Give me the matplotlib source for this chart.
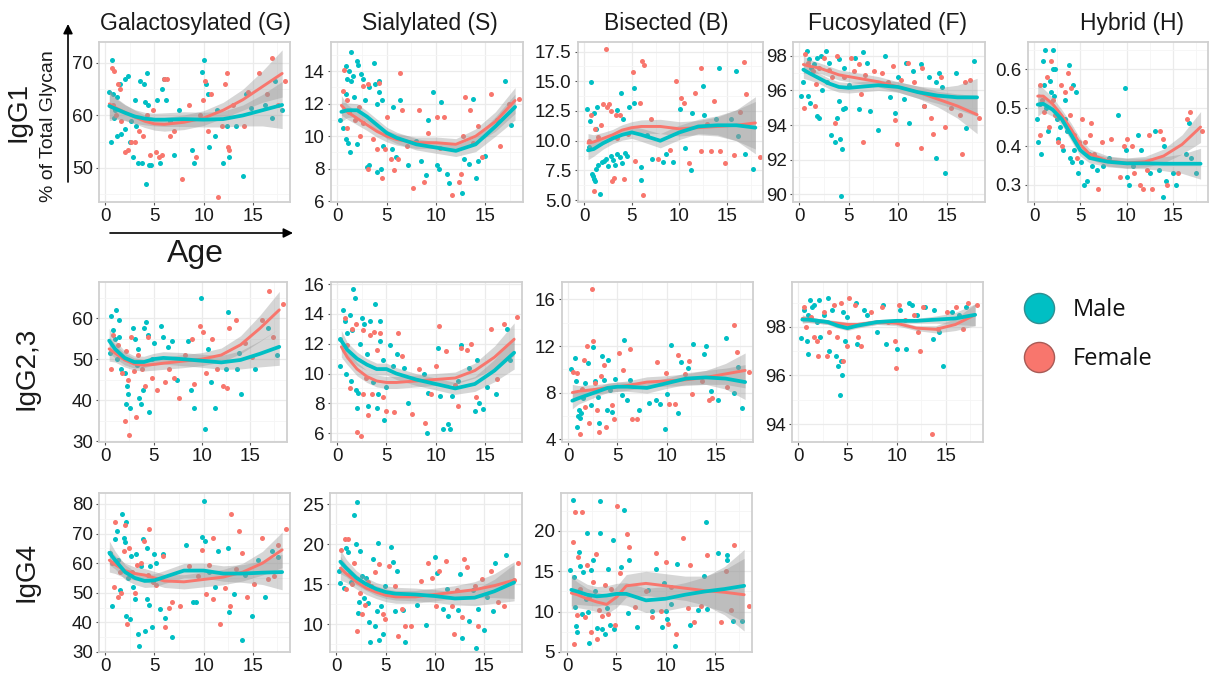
import matplotlib
matplotlib.use("Agg")
import numpy as np
import matplotlib.pyplot as plt

plt.rcParams['font.family'] = ['Liberation Sans', 'DejaVu Sans']

W, H = 1215, 681
TEAL = '#00BFC4'
SALMON = '#F8766D'

age_knots = [0.4, 1, 2, 3, 4, 5, 6, 8, 10, 12, 14, 16, 18]

# ---------------- IgG1 ----------------
g1_gal_male = [(0.7,70.5),(1.5,66),(2.0,67),(2.3,67.5),(0.4,64.5),(0.8,64),(1.2,63.5),(1.0,61),(0.9,59.5),(0.6,55),
               (1.2,56),(1.6,56.5),(2.0,57.5),(2.5,55),(2.8,52),(3.3,51),(3.7,51),(4.1,47),(4.4,50.5),(4.6,50.5),
               (3.0,63),(3.5,66.5),(3.9,66),(4.2,68),(4.3,62),(4.0,62.5),(2.6,59),(3.1,58),(5.3,63),(5.6,51),
               (5.8,65),(6.0,67),(6.2,63),(6.6,59),(7.0,52.5),(7.5,61),(8.8,53.5),(9.0,51),(10.0,70.5),(9.8,68.3),
               (10.2,66),(10.4,64),(10.6,54),(11.2,56),(11.4,61),(12.0,51),(12.4,58),(12.6,52),(13.3,58),(14.0,48.5),
               (14.3,64),(14.8,61.5),(16.3,62),(17.0,59.5),(17.3,66.5),(18.0,61)]
g1_gal_female = [(0.7,69),(0.9,68.5),(1.3,66),(1.5,65),(0.8,62),(1.1,60),(1.6,59),(2.0,53),(2.3,53.5),(2.6,55),
                 (3.0,55),(3.4,57),(3.8,56),(4.2,60),(4.5,52.5),(4.8,61),(5.2,53),(5.5,52),(5.8,52.5),(6.0,67),
                 (6.3,67),(6.6,56),(7.0,57),(7.8,47.8),(8.5,62),(9.2,52),(9.6,60),(9.9,63),(10.1,66.5),(10.4,57),
                 (10.8,64),(11.5,44.5),(11.9,58),(12.2,66),(12.4,68),(12.5,54),(12.6,53.5),(13.0,62),(14.1,58),
                 (14.5,64.5),(15.6,68),(16.5,64),(17.0,71),(17.6,62),(18.3,66.5)]
g1_gal_fit_m = [61.8,61.3,60.5,59.8,59.4,59.2,59.2,59.3,59.2,59.3,60,61,62]
g1_gal_fit_f = [62.2,61.5,60.6,59.7,58.9,58.4,58.3,58.7,59.5,61,63,65.5,68]
g1_gal_se = [2.8,2.0,1.5,1.3,1.2,1.2,1.3,1.4,1.4,1.5,2,3,4.5]

g1_sia_male = [(1.4,15.2),(0.9,14.3),(1.2,14.0),(2.0,14.6),(2.1,14.4),(3.7,14.5),(1.0,13.5),(1.4,13.4),(1.6,13.7),
               (2.4,13.8),(2.6,13.5),(3.2,13.0),(3.8,13.2),(4.2,13.4),(4.2,12.7),(0.9,12.6),(1.7,12.4),(2.8,12.2),
               (4.0,12.0),(4.5,12.2),(5.6,11.8),(0.3,11.0),(0.6,10.5),(0.9,9.8),(1.1,9.6),(1.3,9.0),(2.0,9.5),
               (3.2,8.2),(3.0,8.1),(4.0,7.8),(4.4,8.0),(4.6,9.4),(5.5,9.2),(5.9,8.7),(6.3,12.2),(7.1,8.2),(8.0,9.7),
               (8.5,8.5),(9.0,7.6),(9.2,11.0),(9.7,12.7),(10.1,8.2),(10.3,8.0),(10.5,12.1),(11.1,7.7),(11.3,7.1),
               (12.6,6.5),(12.8,8.6),(13.3,8.3),(13.7,12.3),(14.0,7.4),(14.2,8.5),(14.9,8.8),(16.2,11.0),(17.0,13.4),
               (17.6,10.7)]
g1_sia_female = [(0.7,14.1),(0.6,12.8),(1.0,12.2),(1.2,11.5),(1.0,10.5),(1.8,11.0),(2.2,11.8),(2.3,10.0),(2.6,10.8),
                 (2.6,13.1),(3.1,13.2),(3.1,8.0),(3.6,9.8),(4.0,9.2),(4.2,13.3),(4.5,7.4),(4.8,9.2),(5.0,11.2),
                 (5.4,8.6),(5.7,7.9),(6.1,8.6),(6.3,13.9),(6.5,11.6),(7.0,9.4),(7.7,6.8),(8.3,11.6),(8.8,7.2),
                 (9.2,10.2),(10.1,11.2),(10.8,11.2),(10.4,9.3),(11.6,6.4),(12.3,7.2),(12.5,7.7),(12.7,10.0),
                 (12.9,12.4),(13.4,11.6),(13.7,9.6),(14.2,10.6),(14.6,8.7),(15.6,12.6),(16.5,9.4),(17.4,12.0),
                 (18.4,12.3)]
g1_sia_fit_m = [11.5,11.6,11.6,11.2,10.7,10.2,9.9,9.5,9.3,9.1,9.5,10.6,11.8]
g1_sia_fit_f = [11.9,11.5,11.1,10.7,10.3,10.0,9.8,9.6,9.6,9.5,10.0,10.9,12.2]
g1_sia_se = [0.6,0.45,0.4,0.35,0.35,0.35,0.35,0.35,0.35,0.35,0.45,0.6,0.8]

g1_bis_male = [(0.3,12.7),(0.7,14.9),(0.6,11.7),(1.0,12.3),(1.2,11.0),(1.3,12.8),(0.5,9.5),(0.8,7.2),(0.9,7.0),
               (1.0,6.8),(1.1,6.6),(1.2,7.6),(1.5,8.0),(1.7,5.5),(1.9,8.2),(2.1,8.3),(2.3,8.5),(2.5,7.9),(2.8,8.7),
               (3.0,8.4),(3.2,8.0),(3.5,8.9),(3.8,8.6),(4.0,8.1),(4.3,9.0),(4.5,8.7),(3.4,12.6),(3.9,14.0),(4.1,11.8),
               (4.7,12.8),(5.2,13.2),(5.2,14.4),(6.0,7.8),(6.0,6.7),(6.6,10.5),(7.1,8.5),(8.3,8.2),(8.6,8.9),(9.3,8.2),
               (10.1,12.7),(10.6,9.4),(11.2,7.5),(11.3,12.3),(12.5,14.6),(12.6,12.2),(13.9,11.8),(14.2,16.1),
               (15.4,11.8),(16.0,15.9),(16.2,10.4),(16.9,8.9),(17.7,7.6)]
g1_bis_female = [(0.5,10.0),(0.7,12.2),(1.0,5.8),(1.1,11.0),(1.5,10.3),(1.8,11.3),(2.0,13.1),(2.3,17.7),(2.4,12.8),
                 (2.6,13.1),(2.8,12.5),(2.9,6.6),(3.1,6.9),(3.3,12.2),(3.5,10.2),(3.8,12.2),(4.2,6.8),(4.6,10.6),
                 (5.1,15.8),(5.3,8.3),(5.9,13.2),(6.1,16.7),(6.3,16.4),(6.2,5.4),(7.0,11.8),(7.8,8.5),(9.0,9.2),
                 (9.7,15.0),(10.2,13.6),(10.5,13.2),(11.0,8.1),(11.6,14.0),(12.3,16.1),(12.3,9.1),(12.9,11.4),
                 (13.3,9.1),(13.7,13.3),(14.3,9.1),(14.8,8.1),(15.8,8.8),(16.4,12.4),(16.8,16.6),(17.0,13.9),(18.5,8.6)]
g1_bis_fit_m = [9.2,9.3,9.8,10.2,10.5,10.7,10.5,10.0,10.7,11.2,11.3,11.3,11.1]
g1_bis_fit_f = [9.8,9.9,10.2,10.5,10.9,11.1,11.2,11.2,11.0,11.1,11.2,11.3,11.5]
g1_bis_se = [0.8,0.6,0.5,0.45,0.45,0.5,0.55,0.6,0.6,0.6,0.8,1.3,2.2]

g1_fuc_male = [(0.2,95.7),(0.4,96.5),(0.8,98.3),(1.0,97.8),(1.2,97.3),(1.5,97.5),(1.8,97.9),(2.2,98.0),(2.7,98.3),
               (3.0,97.6),(0.9,95.7),(1.1,95.3),(1.8,94.5),(2.0,94.4),(2.3,96.0),(2.8,96.5),(3.2,93.4),(3.6,93.0),
               (3.8,94.4),(4.0,95.4),(4.1,93.2),(4.2,89.9),(4.4,94.9),(4.6,95.0),(4.3,92.6),(4.0,97.8),(4.5,97.3),
               (5.0,96.3),(5.6,97.9),(6.0,94.9),(6.4,98.2),(6.8,97.6),(7.2,94.8),(8.0,93.7),(8.7,98.0),(9.2,95.6),
               (9.7,94.7),(10.0,96.8),(10.6,95.5),(10.8,97.6),(11.1,94.1),(11.5,97.1),(12.3,97.5),(12.6,95.1),
               (13.1,96.8),(13.8,92.1),(13.8,96.5),(14.1,97.0),(14.4,96.2),(14.7,91.2),(15.9,97.0),(16.9,93.8),
               (17.7,97.7)]
g1_fuc_female = [(0.5,95.0),(0.6,98.1),(0.9,97.6),(1.4,97.1),(1.7,96.4),(1.6,95.1),(2.0,97.3),(2.5,97.9),(3.0,97.2),
                 (3.3,96.8),(3.8,98.0),(3.6,94.1),(4.5,96.8),(5.2,97.9),(5.5,97.1),(6.0,97.5),(6.2,95.8),(6.4,93.0),
                 (6.6,96.9),(7.6,97.1),(8.4,97.0),(9.0,96.5),(9.5,97.4),(9.7,94.3),(9.9,92.9),(10.3,96.6),(11.0,97.6),
                 (11.6,96.5),(12.3,92.7),(12.4,97.3),(12.6,95.1),(13.3,94.4),(13.5,93.5),(14.3,96.8),(14.7,93.9),
                 (15.4,95.0),(16.3,94.6),(16.5,92.3),(16.8,96.5),(17.3,96.6),(18.2,94.4)]
g1_fuc_fit_m = [97.2,97.0,96.7,96.4,96.2,96.15,96.2,96.3,96.2,95.9,95.7,95.6,95.6]
g1_fuc_fit_f = [97.5,97.4,97.3,97.1,96.9,96.8,96.7,96.5,96.2,95.9,95.5,95.1,94.6]
g1_fuc_se = [0.5,0.4,0.3,0.3,0.3,0.3,0.3,0.3,0.3,0.35,0.45,0.7,1.1]

g1_hyb_male = [(0.3,0.47),(0.4,0.41),(0.7,0.51),(0.8,0.38),(1.0,0.62),(1.1,0.56),(1.2,0.65),(1.3,0.50),(1.5,0.44),
               (1.7,0.57),(1.8,0.54),(2.0,0.65),(2.1,0.60),(2.2,0.53),(2.3,0.60),(2.5,0.47),(2.6,0.42),(2.8,0.45),
               (3.1,0.39),(3.3,0.52),(3.4,0.47),(3.6,0.44),(3.8,0.61),(3.9,0.37),(4.1,0.36),(4.2,0.56),(4.3,0.39),
               (4.5,0.54),(4.6,0.41),(4.8,0.33),(5.1,0.36),(5.4,0.30),(5.7,0.31),(5.9,0.38),(6.3,0.35),(6.8,0.34),
               (7.5,0.35),(8.1,0.37),(9.1,0.48),(9.8,0.55),(9.9,0.39),(10.0,0.32),(10.3,0.30),(10.7,0.35),(11.2,0.43),
               (11.6,0.39),(12.5,0.33),(13.1,0.44),(13.5,0.34),(13.9,0.27),(14.0,0.40),(14.3,0.31),(15.0,0.33),
               (15.3,0.30),(16.4,0.38),(16.8,0.46),(17.0,0.37),(17.5,0.33)]
g1_hyb_female = [(0.6,0.43),(0.7,0.56),(0.9,0.52),(1.1,0.49),(1.4,0.58),(1.6,0.45),(1.8,0.62),(2.1,0.52),(2.3,0.48),
                 (2.6,0.41),(2.9,0.56),(3.0,0.40),(3.3,0.54),(3.7,0.59),(3.9,0.48),(4.0,0.55),(4.3,0.43),(4.6,0.37),
                 (4.9,0.41),(5.2,0.47),(5.5,0.41),(6.0,0.43),(6.2,0.46),(6.5,0.38),(6.9,0.29),(7.3,0.41),(8.3,0.42),
                 (9.3,0.32),(9.7,0.40),(10.1,0.42),(10.6,0.40),(10.8,0.33),(11.4,0.30),(11.8,0.29),(12.2,0.34),
                 (12.4,0.43),(12.8,0.29),(13.6,0.44),(13.9,0.42),(14.4,0.30),(15.6,0.33),(16.5,0.47),(16.9,0.49),
                 (18.2,0.44)]
g1_hyb_fit_m = [0.508,0.51,0.495,0.47,0.43,0.39,0.37,0.36,0.356,0.356,0.355,0.355,0.355]
g1_hyb_fit_f = [0.53,0.53,0.51,0.48,0.445,0.405,0.38,0.362,0.357,0.36,0.375,0.405,0.45]
g1_hyb_se = [0.03,0.02,0.017,0.015,0.015,0.015,0.013,0.013,0.013,0.014,0.018,0.025,0.04]

# ---------------- IgG2,3 ----------------
g23_gal_male = [(0.6,60.5),(1.1,62),(1.4,59.5),(0.8,57),(1.0,55),(1.4,55.5),(0.5,51.5),(1.2,50.0),(1.6,47.5),
                (2.0,46.5),(2.2,43.5),(2.3,41.5),(2.1,39),(2.6,38),(2.9,57.5),(3.1,55),(3.4,52.5),(3.3,48.5),
                (3.5,40.5),(3.7,39),(3.9,42.5),(4.0,57.5),(4.2,59),(4.4,56),(4.5,37),(4.8,50),(5.0,54),(5.8,58),
                (6.0,55.5),(6.5,53),(6.9,54.5),(7.4,45),(8.6,54.5),(8.9,42.5),(9.2,38),(9.9,65),(10.3,33),(10.6,52.5),
                (10.9,44.5),(11.3,38),(12.5,47.5),(12.7,61.5),(13.6,47.5),(13.8,51.5),(14.0,41.5),(15.5,47.5),
                (16.8,57.5),(17.8,51)]
g23_gal_female = [(0.6,47.5),(0.8,56),(1.3,53.5),(1.7,46.5),(2.0,35),(2.1,52),(2.3,45),(2.5,31.5),(2.7,55.5),
                  (3.0,47),(3.2,36),(3.4,51),(3.8,47.5),(4.1,43.5),(4.4,55.5),(4.8,45.5),(5.3,42.5),(6.2,44.5),
                  (6.6,47.5),(7.1,45.5),(7.6,40.5),(8.2,51),(9.0,55),(9.2,44),(9.8,58),(10.1,56.5),(10.4,46.5),
                  (11.0,55),(11.6,47.5),(12.2,43.5),(12.6,43),(12.8,57.5),(13.5,59.5),(14.5,54),(15.2,50.5),
                  (16.2,59.5),(16.9,66.5),(17.3,55.5),(18.4,63.5)]
g23_gal_fit_m = [54.5,52.5,50.3,49.3,49.3,50.0,50.3,50.0,49.6,49.2,49.8,51.3,53]
g23_gal_fit_f = [52.5,51.5,49.8,48.8,48.5,48.7,49.0,49.5,50.0,51.0,53.5,57.5,62]
g23_gal_se = [3,2.2,1.7,1.5,1.4,1.4,1.5,1.6,1.6,1.7,2.2,3.2,4.5]

g23_sia_male = [(0.3,12.3),(0.3,10.5),(0.6,14.3),(0.8,13.5),(0.9,10.0),(1.0,12.7),(1.3,13.9),(1.6,15.7),(1.8,15.1),
                (1.5,12.9),(1.4,9.5),(1.9,8.9),(2.0,7.7),(2.1,8.7),(2.3,12.0),(2.5,13.7),(2.7,13.3),(3.0,11.3),
                (3.1,7.8),(3.3,13.5),(3.6,9.4),(3.8,14.7),(4.0,7.7),(4.1,8.6),(4.3,13.5),(4.3,12.2),(4.6,10.9),
                (4.7,6.9),(4.9,9.1),(5.4,11.9),(5.7,10.5),(6.1,11.3),(6.8,10.4),(7.2,8.0),(8.8,10.0),(9.1,6.0),
                (9.2,8.7),(10.2,11.7),(10.5,8.5),(10.8,6.3),(11.3,6.6),(11.5,6.3),(11.7,8.5),(12.3,9.5),(12.6,11.9),
                (13.4,10.4),(14.0,7.5),(14.2,10.9),(14.4,8.0),(14.8,7.6),(15.2,9.1),(16.2,8.6),(17.3,13.0),(17.6,10.9)]
g23_sia_female = [(0.8,13.7),(1.0,11.9),(1.3,9.0),(1.5,13.0),(1.9,13.3),(2.0,6.1),(2.4,5.8),(2.6,8.6),(2.6,12.9),
                  (2.9,9.7),(3.1,7.2),(3.3,12.6),(3.5,8.6),(3.7,12.8),(4.0,11.6),(4.3,12.7),(4.6,8.4),(4.9,7.5),
                  (5.8,7.4),(6.2,12.7),(6.6,11.2),(7.6,7.3),(8.3,10.3),(8.9,6.7),(9.5,8.6),(10.0,10.5),(10.3,13.2),
                  (11.1,11.5),(12.0,9.2),(12.3,7.8),(12.6,11.7),(13.2,11.6),(13.6,12.0),(14.1,8.4),(15.6,13.0),
                  (16.3,9.6),(17.0,13.3),(18.3,13.8)]
g23_sia_fit_m = [12.2,11.6,11.0,10.6,10.3,10.3,10.0,9.6,9.3,9.0,9.3,10.2,11.4]
g23_sia_fit_f = [11.8,11.1,10.3,9.8,9.5,9.4,9.4,9.5,9.6,9.7,10.2,11.1,12.3]
g23_sia_se = [0.7,0.5,0.45,0.4,0.4,0.4,0.4,0.4,0.4,0.4,0.5,0.75,1.1]

g23_bis_male = [(0.3,10.0),(0.7,11.0),(0.8,9.0),(0.9,5.0),(1.0,6.0),(1.1,6.5),(1.2,5.8),(1.3,6.2),(1.5,7.5),
                (1.7,8.8),(2.0,10.5),(2.3,6.9),(2.5,11.9),(2.7,9.0),(3.0,7.6),(3.1,5.4),(3.4,11.1),(3.6,9.1),
                (3.9,6.5),(4.0,10.8),(4.2,8.2),(4.4,6.3),(4.7,9.2),(5.5,7.8),(5.7,12.5),(6.0,7.4),(6.3,9.1),
                (7.2,6.5),(8.2,7.1),(8.9,7.4),(9.3,7.0),(9.8,4.9),(10.0,7.9),(10.5,12.1),(11.2,6.2),(11.5,10.6),
                (12.2,10.1),(12.7,12.2),(13.8,11.3),(14.0,12.0),(14.5,8.1),(15.2,7.4),(16.0,12.7),(16.9,8.0),
                (17.3,10.2),(17.7,6.7)]
g23_bis_female = [(0.5,9.8),(0.9,9.7),(1.2,4.4),(1.4,8.3),(1.6,10.8),(1.7,6.8),(1.9,12.0),(2.1,5.4),(2.4,16.9),
                  (2.5,12.4),(2.7,8.8),(2.9,6.5),(3.1,4.6),(3.3,9.4),(3.6,10.4),(3.8,5.0),(4.4,6.9),(4.6,5.7),
                  (5.2,11.4),(5.6,9.9),(6.3,11.7),(6.5,5.7),(7.0,5.7),(9.0,10.6),(9.9,9.7),(10.2,7.0),(10.9,7.0),
                  (11.2,11.2),(11.9,9.6),(12.3,10.7),(12.6,7.9),(13.6,9.0),(14.3,7.4),(14.6,7.5),(16.2,8.5),
                  (16.9,13.8),(17.2,11.5),(18.4,9.8)]
g23_bis_fit_m = [7.3,7.5,7.8,8.1,8.4,8.5,8.5,8.4,8.8,9.2,9.3,9.2,8.9]
g23_bis_fit_f = [8.0,8.1,8.2,8.3,8.4,8.5,8.6,8.9,9.0,9.1,9.3,9.6,9.9]
g23_bis_se = [0.7,0.5,0.45,0.4,0.4,0.4,0.4,0.45,0.45,0.5,0.6,0.9,1.5]

g23_fuc_male = [(0.3,97.55),(0.6,98.7),(0.9,97.4),(1.0,98.5),(1.0,96.9),(1.2,99.1),(1.4,98.8),(1.6,98.9),(1.9,98.2),
                (2.1,99.1),(2.2,97.6),(2.6,98.5),(3.0,99.2),(3.1,97.0),(3.4,98.7),(3.8,96.8),(4.0,96.4),(4.2,95.2),
                (4.3,96.6),(4.4,96.0),(4.5,98.6),(4.7,97.4),(5.0,98.4),(5.9,99.0),(6.0,97.3),(6.7,98.7),(7.0,98.5),
                (8.0,97.8),(8.6,98.9),(8.9,97.3),(10.0,97.1),(10.3,98.7),(11.0,97.1),(11.3,99.0),(11.6,98.9),
                (12.1,98.5),(12.9,98.8),(13.7,97.5),(13.8,98.7),(14.3,97.8),(14.7,96.4),(15.6,98.6),(16.4,98.5),
                (17.1,98.8)]
g23_fuc_female = [(0.6,98.8),(0.8,98.0),(1.3,98.4),(1.6,97.6),(1.9,97.4),(2.0,96.8),(2.6,98.6),(2.9,96.8),(3.1,97.8),
                  (3.6,98.9),(3.9,97.6),(4.3,99.0),(4.5,96.6),(4.9,97.2),(5.2,99.2),(5.8,98.9),(6.1,97.6),(6.4,97.2),
                  (7.4,98.6),(8.5,98.8),(9.1,98.2),(9.8,97.4),(9.9,96.3),(10.2,98.9),(10.9,98.3),(11.8,98.5),
                  (12.2,97.8),(12.4,97.0),(12.7,98.8),(13.6,93.6),(14.2,97.9),(15.1,98.6),(16.1,98.8),(16.8,97.9),
                  (17.3,99.0),(18.2,98.9)]
g23_fuc_fit_m = [98.3,98.3,98.25,98.2,98.05,97.95,98.05,98.2,98.25,98.25,98.3,98.35,98.5]
g23_fuc_fit_f = [98.35,98.3,98.25,98.2,98.15,98.1,98.1,98.2,98.15,97.95,97.9,98.1,98.5]
g23_fuc_se = [0.15,0.12,0.1,0.1,0.1,0.1,0.1,0.1,0.1,0.1,0.15,0.25,0.45]

# ---------------- IgG4 ----------------
g4_gal_male = [(0.5,63.5),(0.7,45.5),(1.0,68),(1.2,71),(1.3,61),(1.5,51),(1.7,76.5),(1.9,68.5),(2.0,67),(2.1,74),
               (2.1,42),(2.3,55),(2.5,41),(2.6,62.5),(2.8,52),(3.0,48),(3.1,63),(3.3,36),(3.4,32),(3.6,59),(3.8,68),
               (4.0,37),(4.2,48),(4.2,65),(4.4,46),(4.5,59),(4.7,38.5),(4.9,63),(5.2,60),(5.6,44.5),(5.9,63),
               (6.1,41.5),(6.8,35),(8.2,66),(8.9,47),(9.2,47),(9.8,69),(10.0,81),(10.1,67.5),(10.6,57),(11.2,52),
               (11.5,64),(12.5,65),(12.6,43.5),(13.1,49.5),(13.9,34),(14.2,56),(14.9,42),(15.5,61),(16.3,48.5),
               (17.0,64),(17.6,62)]
g4_gal_female = [(0.7,60),(0.9,52),(1.0,74),(1.3,48.5),(1.5,57),(1.6,50),(1.9,64),(2.0,73),(2.2,39.5),(2.4,65),
                 (2.7,57),(3.0,50),(3.2,59.5),(3.6,60),(3.9,67.5),(4.3,56),(4.4,71.5),(4.8,53.5),(5.2,52.5),(5.9,62.5),
                 (6.1,38.5),(6.5,45),(6.8,47),(7.6,45.5),(8.5,59),(9.4,55.5),(9.8,64.5),(10.2,49.5),(10.6,59.5),
                 (11.0,48),(11.0,68.5),(11.7,39.5),(12.2,51.5),(12.7,45.5),(12.8,76.5),(13.3,58),(13.6,71),
                 (13.9,63.5),(14.4,48.5),(15.1,53),(15.9,68.5),(16.6,54.5),(17.2,55.5),(17.6,66),(18.4,71.5)]
g4_gal_fit_m = [63.5,61,57,55,54,54.2,55.3,57.5,57.5,56.5,56.5,56.8,57]
g4_gal_fit_f = [61,59.5,57.5,56.5,56,55,54,53.7,54.5,55.3,57,60,64.5]
g4_gal_se = [4,3,2.5,2.2,2.2,2.2,2.2,2.4,2.5,2.6,3,4,6]

g4_sia_male = [(0.3,16.6),(0.4,15.1),(0.8,14.5),(1.0,19.5),(1.2,19.0),(1.5,15.3),(1.8,23.7),(2.0,20.0),(2.1,25.3),
               (2.2,11.4),(2.3,12.8),(2.4,19.2),(2.6,16.0),(2.8,13.3),(3.0,15.7),(3.2,12.6),(3.3,10.2),(3.4,7.8),
               (3.7,18.2),(3.9,9.8),(4.1,11.6),(4.2,20.2),(4.3,8.0),(4.5,12.3),(4.7,8.8),(4.9,14.8),(5.5,19.7),
               (5.7,17.8),(5.9,11.6),(6.1,16.6),(6.7,11.8),(6.9,7.7),(8.2,12.4),(9.1,9.9),(10.0,18.4),(10.2,16.4),
               (10.8,11.9),(11.2,14.4),(11.3,11.0),(12.3,11.7),(12.5,16.3),(12.7,8.3),(13.4,10.4),(13.8,14.3),
               (14.1,7.0),(14.3,11.9),(14.9,9.3),(15.3,13.4),(15.9,11.6),(16.1,17.7),(17.2,18.6)]
g4_sia_female = [(0.5,19.3),(0.9,20.6),(1.2,20.6),(1.0,14.4),(1.4,16.2),(1.6,15.0),(1.8,17.7),(2.1,9.1),(2.4,13.9),
                 (2.6,11.2),(2.9,12.4),(3.2,15.2),(3.5,14.7),(3.9,16.5),(4.3,17.5),(4.7,11.3),(4.9,10.6),(5.3,17.3),
                 (5.9,14.8),(6.2,8.5),(6.6,11.9),(6.9,9.8),(7.6,9.7),(8.6,15.4),(9.3,17.7),(9.7,15.8),(10.1,12.3),
                 (10.4,16.6),(11.1,17.9),(11.7,12.2),(11.9,8.8),(12.2,14.2),(12.7,10.9),(12.9,18.1),(13.2,17.1),
                 (14.0,14.7),(14.3,9.8),(14.7,15.6),(15.7,16.6),(16.4,12.7),(17.0,12.3),(18.0,15.5),(18.4,17.7)]
g4_sia_fit_m = [17.8,17.0,15.8,15.0,14.4,14.0,13.8,13.7,13.5,13.2,13.3,14.1,15.2]
g4_sia_fit_f = [17.0,16.3,15.3,14.5,14.0,13.6,13.4,13.4,13.7,14.0,14.3,14.8,15.5]
g4_sia_se = [1.5,1.1,0.9,0.8,0.8,0.8,0.8,0.8,0.8,0.8,1.0,1.5,2.3]

g4_bis_male = [(0.3,15.1),(0.6,23.8),(0.7,14.3),(0.8,10.6),(0.9,8.2),(1.0,7.5),(1.2,17.4),(1.3,15.7),(1.5,9.7),
               (1.6,14.9),(1.9,11.6),(2.0,19.7),(2.1,9.9),(2.2,6.1),(2.4,15.2),(2.6,16.4),(2.8,12.6),(3.0,8.0),
               (3.3,23.7),(3.3,19.7),(3.5,7.8),(3.8,7.2),(4.0,10.4),(4.1,15.3),(4.3,8.3),(4.6,18.9),(4.7,7.8),
               (5.5,15.5),(5.8,22.6),(6.2,9.8),(6.3,16.4),(7.1,8.1),(8.2,12.7),(8.6,10.1),(9.0,15.3),(9.6,8.1),
               (9.8,13.6),(10.0,10.1),(10.1,9.1),(10.6,11.0),(11.0,5.8),(11.2,15.9),(12.5,8.3),(13.3,10.2),
               (13.9,14.4),(14.1,21.1),(14.2,10.3),(15.3,17.3),(16.3,16.4),(16.3,17.0),(16.9,8.8),(17.8,8.9)]
g4_bis_female = [(0.6,18.6),(0.7,6.0),(0.8,22.4),(1.0,9.6),(1.1,16.8),(1.3,12.8),(1.5,22.3),(1.8,9.3),(2.0,15.8),
                 (2.2,11.8),(2.4,7.5),(2.6,13.7),(2.9,17.2),(3.0,6.6),(3.2,10.2),(3.5,9.5),(3.8,13.3),(4.1,9.7),
                 (4.4,12.8),(4.8,8.4),(5.1,23.1),(5.4,14.8),(6.1,19.6),(6.3,18.0),(6.9,10.6),(8.0,12.5),(8.6,9.3),
                 (9.0,17.3),(9.5,10.1),(10.0,16.1),(10.2,8.5),(10.6,13.1),(11.1,7.2),(11.8,19.1),(12.3,10.5),
                 (12.5,15.8),(12.9,8.7),(13.6,10.7),(14.2,17.0),(15.6,8.7),(16.2,15.0),(16.7,10.2),(17.0,18.2),
                 (18.5,10.7)]
g4_bis_fit_m = [12.7,12.5,12.1,11.9,12.0,12.2,12.2,11.4,11.6,12.1,12.5,12.8,13.2]
g4_bis_fit_f = [12.3,12.1,11.6,11.2,10.9,11.8,13.2,13.5,13.2,12.9,12.6,12.4,12.1]
g4_bis_se = [2,1.6,1.3,1.2,1.2,1.3,1.4,1.5,1.5,1.5,1.8,2.8,4.5]

col_titles = ['Galactosylated (G)', 'Sialylated (S)', 'Bisected (B)', 'Fucosylated (F)', 'Hybrid (H)']
title_x = [195, 430, 666, 887, 1132]

fig = plt.figure(figsize=(W / 100, H / 100), dpi=100)


def panel(box, ylim, yticks, male, female, fit_m, fit_f, se, fmt='{:g}'):
    l, t, r, b = box
    ax = fig.add_axes([l / W, 1 - b / H, (r - l) / W, (b - t) / H])
    ax.set_xlim(-0.65, 18.8)
    ax.set_xticks([0, 5, 10, 15])
    ax.set_xticks([2.5, 7.5, 12.5, 17.5], minor=True)
    ax.set_yticks(yticks)
    ax.set_yticklabels([fmt.format(v) for v in yticks])
    step = yticks[1] - yticks[0]
    ax.set_yticks([v + step / 2 for v in [yticks[0] - step] + list(yticks)], minor=True)
    ax.set_ylim(*ylim)
    ax.grid(which='major', color='#EBEBEB', lw=0.9)
    ax.grid(which='minor', color='#F5F5F5', lw=0.6)
    ax.set_axisbelow(True)
    for s in ax.spines.values():
        s.set_color('#D0D0D0')
        s.set_linewidth(1.3)
    ax.tick_params(which='major', length=2.5, width=0.8, color='#555555',
                   labelsize=13.5, labelcolor='#1a1a1a', pad=2)
    ax.tick_params(which='minor', length=0)

    mx, my = zip(*male)
    fx, fy = zip(*female)
    ax.scatter(mx, my, s=13, color=TEAL, lw=0, zorder=2)
    ax.scatter(fx, fy, s=13, color=SALMON, lw=0, zorder=2)

    kx = np.array(age_knots)
    se = np.array(se)
    for fit in (fit_f, fit_m):
        fit = np.array(fit)
        ax.fill_between(kx, fit - se, fit + se, color='#999999', alpha=0.4, lw=0, zorder=3)
    ax.plot(kx, fit_f, color=SALMON, lw=2.1, zorder=4, solid_capstyle='round')
    ax.plot(kx, fit_m, color=TEAL, lw=2.7, zorder=5, solid_capstyle='round')
    return ax


panel((99, 42, 290, 202), (43.5, 74), [50, 60, 70], g1_gal_male, g1_gal_female, g1_gal_fit_m, g1_gal_fit_f, g1_gal_se)
panel((331, 42, 523, 202), (5.95, 15.8), [6, 8, 10, 12, 14], g1_sia_male, g1_sia_female, g1_sia_fit_m, g1_sia_fit_f, g1_sia_se)
panel((578, 42, 763, 202), (4.85, 18.3), [5, 7.5, 10, 12.5, 15, 17.5], g1_bis_male, g1_bis_female, g1_bis_fit_m, g1_bis_fit_f, g1_bis_se, fmt='{:.1f}')
panel((793, 42, 985, 202), (89.55, 98.8), [90, 92, 94, 96, 98], g1_fuc_male, g1_fuc_female, g1_fuc_fit_m, g1_fuc_fit_f, g1_fuc_se)
panel((1028, 42, 1208, 202), (0.256, 0.67), [0.3, 0.4, 0.5, 0.6], g1_hyb_male, g1_hyb_female, g1_hyb_fit_m, g1_hyb_fit_f, g1_hyb_se, fmt='{:.1f}')

panel((99, 282, 287, 442), (29.8, 68.8), [30, 40, 50, 60], g23_gal_male, g23_gal_female, g23_gal_fit_m, g23_gal_fit_f, g23_gal_se)
panel((331, 282, 522, 442), (5.4, 16.15), [6, 8, 10, 12, 14, 16], g23_sia_male, g23_sia_female, g23_sia_fit_m, g23_sia_fit_f, g23_sia_se)
panel((562, 282, 753, 442), (3.75, 17.5), [4, 8, 12, 16], g23_bis_male, g23_bis_female, g23_bis_fit_m, g23_bis_fit_f, g23_bis_se)
panel((792, 282, 983, 442), (93.26, 99.85), [94, 96, 98], g23_fuc_male, g23_fuc_female, g23_fuc_fit_m, g23_fuc_fit_f, g23_fuc_se)

panel((99, 493, 290, 652), (30, 83.7), [30, 40, 50, 60, 70, 80], g4_gal_male, g4_gal_female, g4_gal_fit_m, g4_gal_fit_f, g4_gal_se)
panel((330, 493, 522, 652), (6.5, 26.4), [10, 15, 20, 25], g4_sia_male, g4_sia_female, g4_sia_fit_m, g4_sia_fit_f, g4_sia_se)
panel((561, 493, 752, 652), (5, 24.7), [5, 10, 15, 20], g4_bis_male, g4_bis_female, g4_bis_fit_m, g4_bis_fit_f, g4_bis_se)

# overlay in pixel coordinates for titles, row labels, arrows and legend
ov = fig.add_axes([0, 0, 1, 1], zorder=10)
ov.set_xlim(0, W)
ov.set_ylim(H, 0)
ov.axis('off')
ov.patch.set_alpha(0)

for title, x in zip(col_titles, title_x):
    ov.text(x, 30, title, ha='center', va='baseline', fontsize=16.5, color='#1a1a1a')

ov.text(19, 112, 'IgG1', rotation=90, ha='center', va='center', fontsize=20, color='#1a1a1a')
ov.text(26, 368, 'IgG2,3', rotation=90, ha='center', va='center', fontsize=20, color='#1a1a1a')
ov.text(26, 572, 'IgG4', rotation=90, ha='center', va='center', fontsize=20, color='#1a1a1a')
ov.text(49, 126, '% of Total Glycan', rotation=90, ha='center', va='center', fontsize=14, color='#1a1a1a')
ov.text(195, 254, 'Age', ha='center', va='center', fontsize=23, color='#1a1a1a')

arrow = dict(arrowstyle='-|>', color='black', lw=1.2, mutation_scale=14, shrinkA=0, shrinkB=0)
ov.annotate('', xy=(68, 24), xytext=(68, 182), arrowprops=arrow)
ov.annotate('', xy=(293, 233), xytext=(110, 233), arrowprops=arrow)

ov.scatter([1039], [308], s=470, color=TEAL, edgecolor='#2f8f92', lw=1.0)
ov.scatter([1039], [357], s=470, color=SALMON, edgecolor='#a85a55', lw=1.0)
ov.text(1073, 310, 'Male', ha='left', va='center', fontsize=17, family=['Open Sans', 'DejaVu Sans'], color='#111111')
ov.text(1073, 359, 'Female', ha='left', va='center', fontsize=17, family=['Open Sans', 'DejaVu Sans'], color='#111111')

fig.savefig('out.png', dpi=100)
